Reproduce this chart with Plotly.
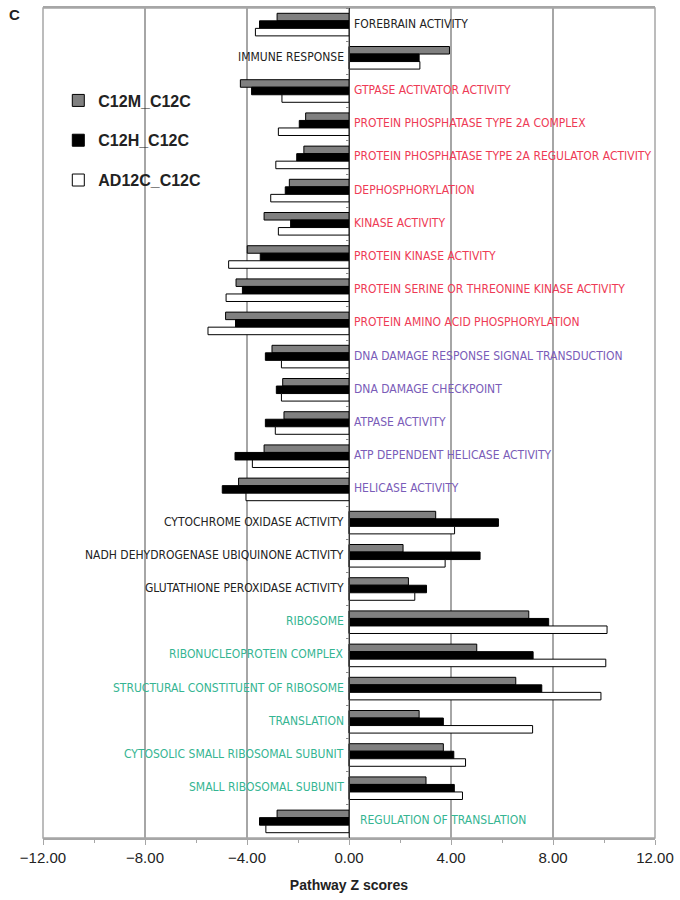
import plotly.graph_objects as go

categories = [
    "FOREBRAIN ACTIVITY", "IMMUNE RESPONSE", "GTPASE ACTIVATOR ACTIVITY",
    "PROTEIN PHOSPHATASE TYPE 2A COMPLEX", "PROTEIN PHOSPHATASE TYPE 2A REGULATOR ACTIVITY",
    "DEPHOSPHORYLATION", "KINASE ACTIVITY", "PROTEIN KINASE ACTIVITY",
    "PROTEIN SERINE OR THREONINE KINASE ACTIVITY", "PROTEIN AMINO ACID PHOSPHORYLATION",
    "DNA DAMAGE RESPONSE SIGNAL TRANSDUCTION", "DNA DAMAGE CHECKPOINT", "ATPASE ACTIVITY",
    "ATP DEPENDENT HELICASE ACTIVITY", "HELICASE ACTIVITY", "CYTOCHROME OXIDASE ACTIVITY",
    "NADH DEHYDROGENASE UBIQUINONE ACTIVITY", "GLUTATHIONE PEROXIDASE ACTIVITY",
    "RIBOSOME", "RIBONUCLEOPROTEIN COMPLEX", "STRUCTURAL CONSTITUENT OF RIBOSOME",
    "TRANSLATION", "CYTOSOLIC SMALL RIBOSOMAL SUBUNIT", "SMALL RIBOSOMAL SUBUNIT",
    "REGULATION OF TRANSLATION",
]
label_groups = ["k", "k", "r", "r", "r", "r", "r", "r", "r", "r",
                "p", "p", "p", "p", "p", "k", "k", "k",
                "g", "g", "g", "g", "g", "g", "g"]

c12m = [-2.82, 3.94, -4.26, -1.70, -1.77, -2.34, -3.33, -3.99, -4.43, -4.84,
        -3.02, -2.60, -2.55, -3.33, -4.33, 3.40, 2.12, 2.33,
        7.05, 5.01, 6.54, 2.75, 3.70, 3.02, -2.82]
c12h = [-3.51, 2.75, -3.82, -1.95, -2.05, -2.50, -2.29, -3.48, -4.18, -4.45,
        -3.28, -2.85, -3.28, -4.47, -4.97, 5.86, 5.14, 3.04,
        7.83, 7.22, 7.56, 3.70, 4.11, 4.13, -3.51]
ad12c = [-3.67, 2.78, -2.63, -2.77, -2.87, -3.07, -2.77, -4.72, -4.82, -5.53,
         -2.65, -2.65, -2.89, -3.79, -4.04, 4.14, 3.77, 2.58,
         10.12, 10.07, 9.88, 7.20, 4.57, 4.45, -3.26]

series_names = ["C12M_C12C", "C12H_C12C", "AD12C_C12C"]
x_ticks = [-12, -8, -4, 0, 4, 8, 12]

colors = {"k": "#222222", "r": "#ee3a55", "p": "#7a5cb8", "g": "#35b592"}
fills = ["#808080", "#000000", "#ffffff"]

fig = go.Figure()
for name, vals, fc in zip(series_names, [c12m, c12h, ad12c], fills):
    fig.add_trace(go.Bar(
        y=categories, x=vals, name=name, orientation="h",
        marker=dict(color=fc, line=dict(color="#000000", width=1)),
        legendgroup=name,
    ))

label_font = "Liberation Sans Narrow, Arial Narrow, DejaVu Sans Condensed, sans-serif"
for cat, grp, v in zip(categories, label_groups, c12m):
    if v < 0:
        shift = 9 if cat == "REGULATION OF TRANSLATION" else 3
        fig.add_annotation(x=0, y=cat, text=cat, showarrow=False, xanchor="left",
                           xshift=shift, yshift=1,
                           font=dict(family=label_font, size=12, color=colors[grp]))
    else:
        fig.add_annotation(x=0, y=cat, text=cat, showarrow=False, xanchor="right",
                           xshift=-3, yshift=1,
                           font=dict(family=label_font, size=12, color=colors[grp]))

fig.add_annotation(x=-0.047, y=1.0, xref="paper", yref="paper", text="<b>C</b>", showarrow=False,
                   xanchor="center", yanchor="middle", yshift=-6,
                   font=dict(family="Liberation Sans, Arial, sans-serif", size=15, color="#222"))

fig.update_layout(
    width=680, height=900,
    margin=dict(l=43, r=24, t=6, b=62),
    plot_bgcolor="white", paper_bgcolor="white",
    barmode="group", bargap=0.32, bargroupgap=0.0,
    showlegend=True,
    legend=dict(x=0.025, y=0.909, xanchor="left", yanchor="top",
                font=dict(family="Liberation Sans, Arial, sans-serif", size=16, color="#222",
                          weight="bold"),
                tracegroupgap=16, traceorder="grouped", bgcolor="rgba(0,0,0,0)"),
    xaxis=dict(range=[-12, 12], tickvals=x_ticks, tickformat=".2f",
               showgrid=True, gridcolor="#a6a6a6", gridwidth=1.5,
               zeroline=False, showline=True, linecolor="#a6a6a6", linewidth=1.5, mirror=True,
               ticks="outside", ticklen=5, tickcolor="#a6a6a6",
               minor=dict(dtick=2, ticks="outside", ticklen=3, tickcolor="#a6a6a6"),
               ticklabeloverflow="allow",
               tickfont=dict(family="Liberation Sans, Arial, sans-serif", size=15, color="#222"),
               title=dict(text="<b>Pathway Z scores</b>", standoff=15,
                          font=dict(family="Liberation Sans, Arial, sans-serif", size=14, color="#222"))),
    yaxis=dict(categoryorder="array", categoryarray=categories, autorange="reversed",
               showgrid=False, zeroline=False, showticklabels=False,
               anchor="free", position=0.5, showline=True, linecolor="#333333", linewidth=1,
               ticks="outside", ticklen=3, tickson="boundaries", tickcolor="#888888"),
)
fig.add_shape(type="rect", xref="paper", yref="paper", x0=0, y0=0, x1=1, y1=1,
              line=dict(color="#a6a6a6", width=1.5), layer="below")

fig.write_html("out.html", config={"displayModeBar": False},
               post_script="document.body.style.margin='0';")
